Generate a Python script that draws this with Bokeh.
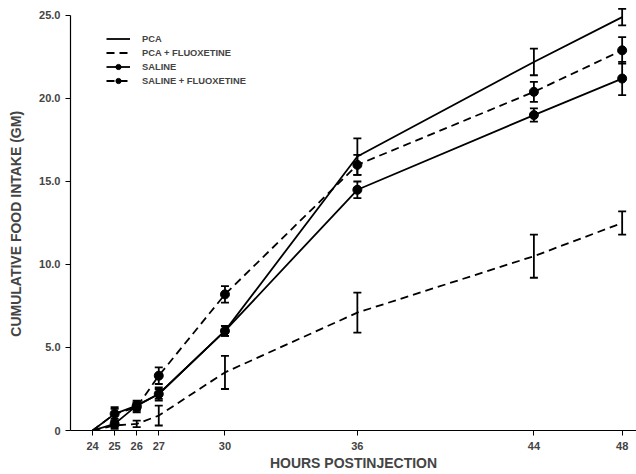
from bokeh.plotting import figure
from bokeh.models import (Range1d, FixedTicker, Legend, LegendItem, Whisker,
                          ColumnDataSource, TeeHead)
from bokeh.embed import file_html
from bokeh.resources import INLINE

hours = [24, 25, 26, 27, 30, 36, 44, 48]
x_ticks = [24, 25, 26, 27, 30, 36, 44, 48]
y_ticks = [0, 5, 10, 15, 20, 25]
y_tick_labels = ["0", "5.0", "10.0", "15.0", "20.0", "25.0"]

pca = [0, 1.0, 1.5, 2.2, 6.0, 16.5, 22.2, 24.9]
pca_err = [0, 0.4, 0.3, 0.4, 0.3, 1.1, 0.8, 0.5]
pca_fluox = [0, 0.3, 0.4, 0.9, 3.5, 7.1, 10.5, 12.5]
pca_fluox_err = [0, 0.2, 0.2, 0.6, 1.0, 1.2, 1.3, 0.7]
saline = [0, 0.4, 1.5, 2.2, 6.0, 14.5, 19.0, 21.2]
saline_err = [0, 0.2, 0.2, 0.3, 0.3, 0.5, 0.4, 1.0]
saline_fluox = [0, 1.0, 1.4, 3.3, 8.2, 16.0, 20.4, 22.9]
saline_fluox_err = [0, 0.3, 0.3, 0.5, 0.5, 0.6, 0.6, 0.8]

FONT = "Liberation Sans"

p = figure(width=636, height=474, output_backend="svg", toolbar_location=None,
           x_range=Range1d(23.0, 48.65), y_range=Range1d(0, 25.6),
           min_border_left=70, min_border_right=0, min_border_top=5,
           min_border_bottom=44)
p.grid.visible = False
p.outline_line_color = None
p.background_fill_color = "white"
p.border_fill_color = "white"

series = [
    ("PCA", pca, pca_err, "solid", False),
    ("PCA + FLUOXETINE", pca_fluox, pca_fluox_err, "8 5", False),
    ("SALINE", saline, saline_err, "solid", True),
    ("SALINE + FLUOXETINE", saline_fluox, saline_fluox_err, "8 5", True),
]

items = []
for name, vals, errs, dash, markers in series:
    line_src = ColumnDataSource(dict(x=hours, y=vals))
    pts_src = ColumnDataSource(dict(
        x=hours[1:], y=vals[1:],
        lo=[v - e for v, e in zip(vals[1:], errs[1:])],
        hi=[v + e for v, e in zip(vals[1:], errs[1:])],
    ))
    r_line = p.line("x", "y", source=line_src, line_color="black",
                    line_width=1.8, line_dash=dash)
    renderers = [r_line]
    if markers:
        r_pts = p.scatter("x", "y", source=pts_src, marker="circle", size=9,
                          fill_color="black", line_color="black")
        renderers.append(r_pts)
    w = Whisker(source=pts_src, base="x", lower="lo", upper="hi",
                line_color="black", line_width=1.8,
                upper_head=TeeHead(size=8, line_color="black", line_width=1.8),
                lower_head=TeeHead(size=8, line_color="black", line_width=1.8))
    p.add_layout(w)
    items.append(LegendItem(label=name, renderers=renderers))

legend = Legend(items=items, location=(36, 343), border_line_color=None,
                background_fill_alpha=0, padding=0, spacing=1,
                glyph_width=24, glyph_height=13, label_height=13,
                label_text_font=FONT, label_text_font_style="bold",
                label_text_font_size="7pt", label_standoff=12)
p.add_layout(legend)

p.xaxis.ticker = FixedTicker(ticks=x_ticks)
p.yaxis.ticker = FixedTicker(ticks=y_ticks)
p.yaxis.bounds = (0, 25)
p.yaxis.major_label_overrides = {t: l for t, l in zip(y_ticks, y_tick_labels)}
p.xaxis.axis_label = "HOURS POSTINJECTION"
p.yaxis.axis_label = "CUMULATIVE  FOOD  INTAKE  (GM)"
for ax in (p.xaxis, p.yaxis):
    ax.axis_line_color = "black"
    ax.axis_line_width = 1.2
    ax.major_tick_line_color = "black"
    ax.minor_tick_line_color = None
    ax.major_tick_out = 5
    ax.major_tick_in = 0
    ax.major_label_text_font = FONT
    ax.major_label_text_font_style = "bold"
    ax.major_label_text_font_size = "11px"
    ax.axis_label_text_font = FONT
    ax.axis_label_text_font_style = "bold"
    ax.axis_label_text_font_size = "14px"
p.xaxis.axis_label_standoff = 2
p.yaxis.axis_label_standoff = 12
p.xaxis.major_label_standoff = 6

open("out.html", "w").write(file_html(p, INLINE))
